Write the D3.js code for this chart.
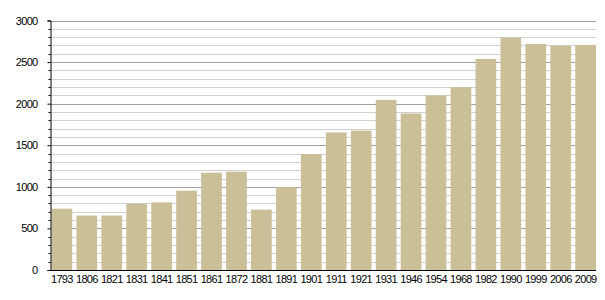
<!DOCTYPE html>
<html>
<head>
<meta charset="utf-8">
<style>
  body { margin: 0; background: #fff; }
  text { font-family: "Liberation Sans", Arial, sans-serif; font-size: 11px; fill: #000; }
</style>
</head>
<body>
<svg id="chart"></svg>
<script src="https://cdn.jsdelivr.net/npm/d3@7"></script>
<script>
const years = ['1793', '1806', '1821', '1831', '1841', '1851', '1861', '1872', '1881', '1891', '1901',
  '1911', '1921', '1931', '1946', '1954', '1968', '1982', '1990', '1999', '2006', '2009'];
const population = [737, 655, 655, 798, 812, 954, 1170, 1182, 726, 996, 1394,
  1654, 1676, 2046, 1882, 2098, 2198, 2538, 2794, 2718, 2694, 2706];
const yTicks = [0, 500, 1000, 1500, 2000, 2500, 3000];

const width = 605, height = 300;
const margin = { top: 20.5, right: 9, bottom: 30, left: 50.5 };

const svg = d3.select('#chart').attr('width', width).attr('height', height);

const x = d3.scaleBand()
  .domain(years)
  .range([margin.left + 1, width - margin.right])
  .paddingInner(0.17)
  .paddingOuter(0);

const y = d3.scaleLinear()
  .domain([0, 3000])
  .range([height - margin.bottom, margin.top]);

// grid lines, minor every 100, major every 500
const grid = svg.append('g');
grid.selectAll('line')
  .data(d3.range(100, 3001, 100))
  .enter()
  .append('line')
  .attr('x1', margin.left)
  .attr('x2', width - margin.right)
  .attr('y1', d => Math.round(y(d)) + 0.5)
  .attr('y2', d => Math.round(y(d)) + 0.5)
  .attr('stroke', d => d % 500 === 0 ? '#a0a0a0' : '#d0d0d0')
  .attr('stroke-width', 1);

// bars
svg.append('g')
  .selectAll('rect')
  .data(population)
  .enter()
  .append('rect')
  .attr('x', (d, i) => x(years[i]))
  .attr('width', x.bandwidth())
  .attr('y', d => y(d))
  .attr('height', d => y(0) - y(d))
  .attr('fill', '#cbbf98');

// y axis
const yAxis = d3.axisLeft(y)
  .tickValues(yTicks)
  .tickSize(3)
  .tickPadding(10)
  .tickFormat(d3.format('d'));
const gy = svg.append('g')
  .attr('transform', 'translate(' + margin.left + ',0)')
  .call(yAxis);
gy.select('.domain').attr('stroke', '#000');
gy.selectAll('.tick text')
  .style('font-size', '11px')
  .style('letter-spacing', '-0.7px')
  .attr('fill', '#000');

// minor ticks
gy.append('g')
  .selectAll('line')
  .data(d3.range(100, 3000, 100).filter(d => d % 500 !== 0))
  .enter()
  .append('line')
  .attr('x1', -2)
  .attr('x2', 0)
  .attr('y1', d => Math.round(y(d)) + 0.5)
  .attr('y2', d => Math.round(y(d)) + 0.5)
  .attr('stroke', '#000');

// x axis
const xAxis = d3.axisBottom(x).tickSize(0).tickPadding(5);
const gx = svg.append('g')
  .attr('transform', 'translate(0,' + y(0) + ')')
  .call(xAxis);
gx.select('.domain').attr('d', 'M' + margin.left + ',0.5H' + (width - margin.right)).attr('stroke', '#000');
gx.selectAll('.tick text')
  .style('font-size', '11px')
  .style('letter-spacing', '-0.7px')
  .attr('fill', '#000');
</script>
</body>
</html>
